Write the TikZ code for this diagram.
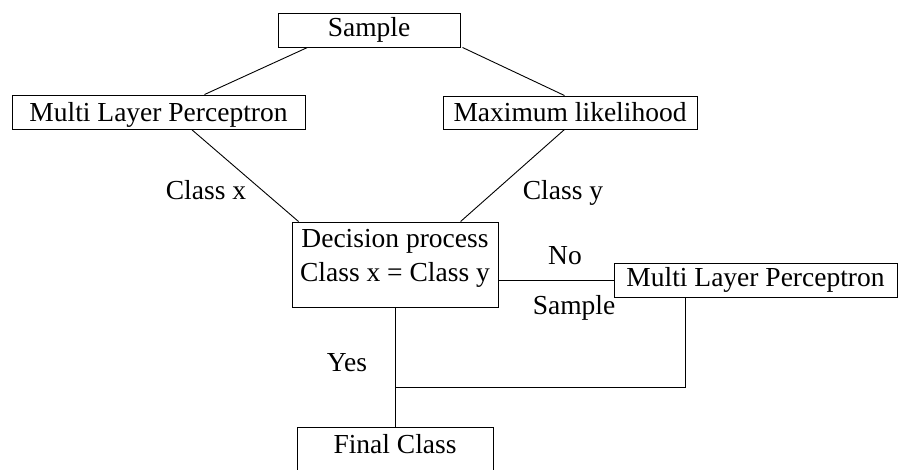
\documentclass[tikz,border=0pt]{standalone}
\usepackage{fontspec}
\setmainfont{Liberation Serif}
\begin{document}
\begin{tikzpicture}[x=1pt,y=-1pt,
  every node/.style={font=\fontsize{27.5}{34}\selectfont, inner sep=0pt},
  box/.style={draw, line width=0.9pt},
  conn/.style={line width=0.9pt},
  lbl/.style={anchor=base}]
\useasboundingbox (0,0) rectangle (898,470);
\clip (0,0) rectangle (898,470);
\fill[white] (0,0) rectangle (898,470);

\node[box, minimum width=182pt, minimum height=34pt, text height=19pt, text depth=5pt] (sample) at (369,30) {Sample};
\node[box, minimum width=293pt, minimum height=34pt, text height=22pt, text depth=2pt] (mlp) at (158.5,112) {Multi Layer Perceptron};
\node[box, minimum width=254pt, minimum height=33pt, text height=21pt, text depth=2pt] (ml) at (570,112.5) {Maximum likelihood};
\node[box, minimum width=206pt, minimum height=85pt, text height=20pt, text depth=53pt] (dec) at (395,264.5) {\begin{tabular}[t]{@{}c@{}}Decision process\\Class x = Class y\end{tabular}};
\node[box, minimum width=283pt, minimum height=34pt, text height=19pt, text depth=5pt] (mlp2) at (755.5,280) {Multi Layer Perceptron};
\node[box, anchor=north, minimum width=196pt, inner ysep=8pt, text height=18pt, text depth=45pt] (final) at (395,427) {Final Class};

\node[lbl] (lx) at (206,200) {Class x};
\node[lbl] (ly) at (563,200) {Class y};
\node[lbl] (no) at (565,265) {No};
\node[lbl] (samp) at (574,315) {Sample};
\node[lbl] (yes) at (347,372) {Yes};

\coordinate (j) at (395,387);
\coordinate (m2b) at ([xshift=72pt]mlp2.south west);

\draw[conn] ([xshift=30pt]sample.south west) -- ([xshift=-101pt]mlp.north east);
\draw[conn] ([xshift=2pt]sample.south east) -- ([xshift=122pt]ml.north west);
\draw[conn] ([xshift=180pt]mlp.south west) -- ([xshift=7pt]dec.north west);
\draw[conn] ([xshift=122pt]ml.south west) -- ([xshift=169pt]dec.north west);
\draw[conn] (dec.east |- mlp2.west) -- (mlp2.west);
\draw[conn] (dec.south) -- (final.north);
\draw[conn] (m2b) |- (j);
\end{tikzpicture}
\end{document}
